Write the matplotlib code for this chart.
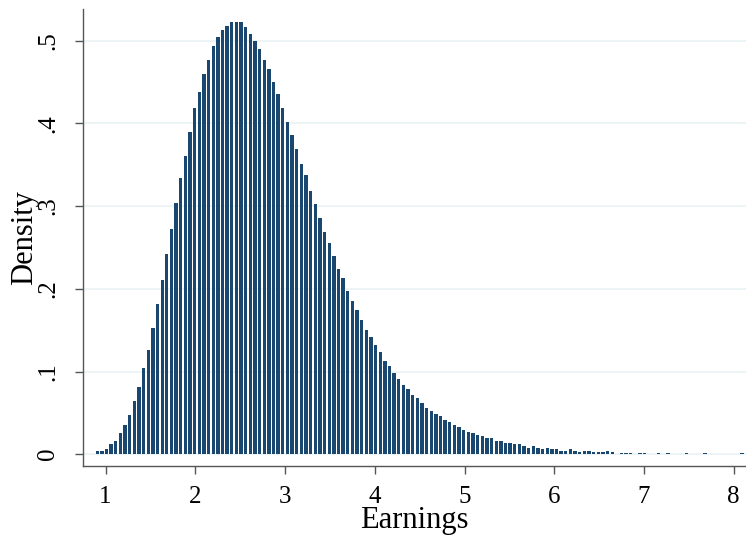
import numpy as np
import matplotlib
matplotlib.use('Agg')
import matplotlib.pyplot as plt

# histogram of earnings, 140 bins (heights)
bin_start = 0.881
bin_width = 0.0517
density = [
    0.004, 0.004, 0.0065, 0.0125, 0.016, 0.026, 0.0355, 0.047, 0.0645, 0.0815,
    0.104, 0.126, 0.153, 0.182, 0.211, 0.2415, 0.2726, 0.304, 0.334, 0.361,
    0.390, 0.418, 0.438, 0.460, 0.477, 0.493, 0.504, 0.513, 0.518, 0.523,
    0.522, 0.522, 0.516, 0.508, 0.500, 0.490, 0.477, 0.466, 0.450, 0.435,
    0.419, 0.402, 0.386, 0.369, 0.351, 0.337, 0.3185, 0.302, 0.286, 0.269,
    0.2556, 0.240, 0.224, 0.213, 0.1976, 0.1855, 0.1746, 0.1625, 0.1504, 0.142,
    0.132, 0.124, 0.113, 0.107, 0.098, 0.091, 0.084, 0.079, 0.0717, 0.068,
    0.062, 0.056, 0.0522, 0.0486, 0.046, 0.0413, 0.0389, 0.0352, 0.0328, 0.029,
    0.0267, 0.0255, 0.023, 0.0219, 0.0194, 0.0194, 0.0158, 0.0158, 0.0134, 0.0134,
    0.0121, 0.0121, 0.0097, 0.0073, 0.0097, 0.0073, 0.006, 0.0073, 0.006, 0.006,
    0.0036, 0.0036, 0.006, 0.0036, 0.003, 0.0036, 0.0036, 0.0024, 0.0024, 0.0024,
    0.0036, 0.0024, 0.0, 0.0018, 0.0018, 0.0018, 0.0, 0.0018, 0.0018, 0.0,
    0.0, 0.0018, 0.0, 0.0018, 0.0, 0.0, 0.0, 0.0018, 0.0, 0.0,
    0.0, 0.0018, 0.0, 0.0, 0.0, 0.0, 0.0, 0.0, 0.0, 0.0018,
]
xticks = [1, 2, 3, 4, 5, 6, 7, 8]
yticks = [0, 0.1, 0.2, 0.3, 0.4, 0.5]
ytick_labels = ['0', '.1', '.2', '.3', '.4', '.5']

plt.rcParams['font.family'] = ['Liberation Serif', 'DejaVu Serif']

fig = plt.figure(figsize=(7.46, 5.39), dpi=100)
ax = fig.add_axes([0.111, 0.135, 0.889, 0.848])

edges = bin_start + bin_width * np.arange(len(density))
ax.bar(edges + bin_width * 0.5, density, width=bin_width * 0.72,
       color='#1a476f', linewidth=0, zorder=3)

# Stata style gridlines
for y in yticks:
    ax.axhline(y, color='#eaf2f3', lw=1.2, zorder=1)

ax.set_xlim(0.746, 8.137)
ax.set_ylim(-0.0145, 0.538)
ax.set_xticks(xticks)
ax.set_yticks(yticks)
ax.set_yticklabels(ytick_labels, rotation=90, va='center')

for s in ['top', 'right']:
    ax.spines[s].set_visible(False)
for s in ['left', 'bottom']:
    ax.spines[s].set_color('#555555')
    ax.spines[s].set_linewidth(1.0)

ax.tick_params(axis='both', which='major', labelsize=18, length=6,
               width=1.0, color='#555555')
ax.tick_params(axis='x', pad=8)
ax.tick_params(axis='y', pad=11)

ax.set_xlabel("Earnings", fontsize=22, labelpad=-1)
ax.set_ylabel("Density", fontsize=22, labelpad=-1)

fig.savefig('out.png', dpi=100)
